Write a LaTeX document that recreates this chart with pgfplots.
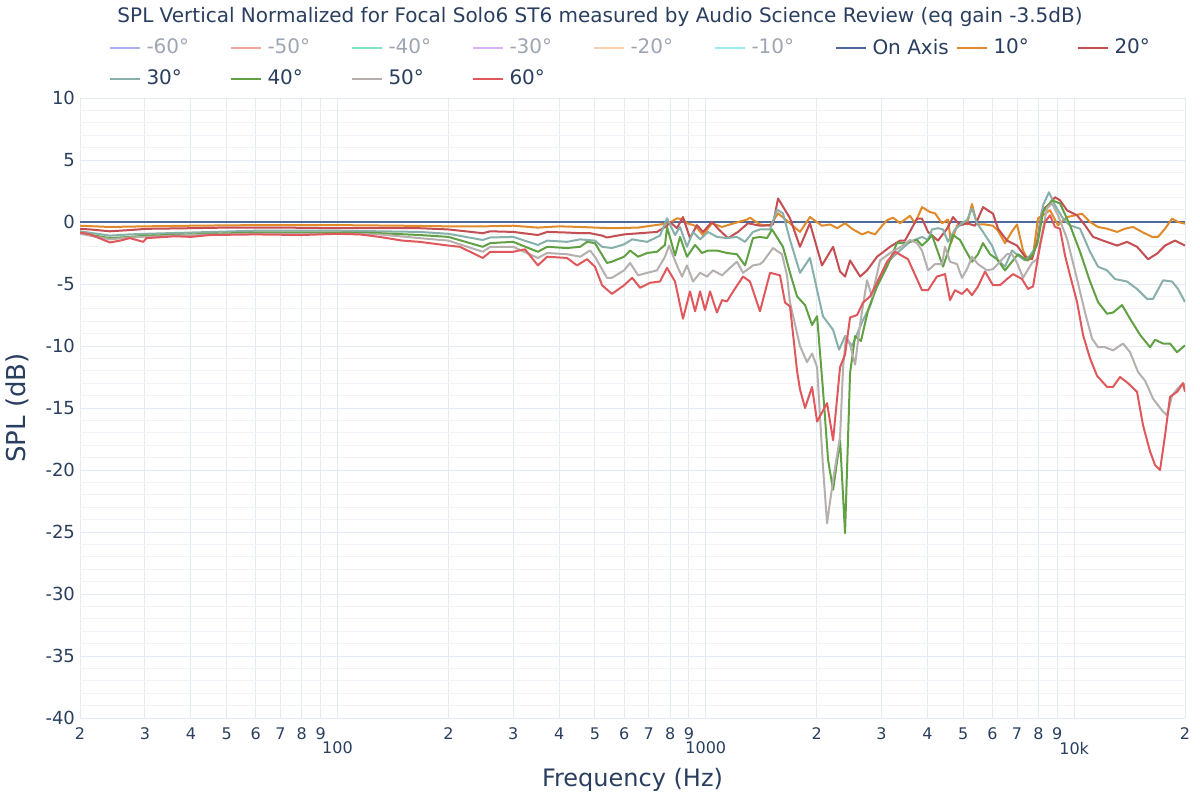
\documentclass[border=0pt]{standalone}
\usepackage{pgfplots}
\pgfplotsset{compat=1.18}
\usepackage{fontspec}
\setmainfont{DejaVu Sans}
\definecolor{txt}{HTML}{2A3F5F}
\definecolor{txtoff}{HTML}{9EA6B3}
\definecolor{gmaj}{HTML}{E4EAF3}
\definecolor{gmin}{HTML}{F0F3F8}
\definecolor{cn60}{HTML}{A9AEF7}
\definecolor{cn50}{HTML}{F3A69B}
\definecolor{cn40}{HTML}{80E3C6}
\definecolor{cn30}{HTML}{D8B2F8}
\definecolor{cn20}{HTML}{FDD0AC}
\definecolor{cn10}{HTML}{9DE9F5}
\definecolor{c0}{HTML}{4C6A9C}
\definecolor{c10}{HTML}{E08A2A}
\definecolor{c20}{HTML}{C44E52}
\definecolor{c30}{HTML}{88B0AA}
\definecolor{c40}{HTML}{62A044}
\definecolor{c50}{HTML}{B5B0AE}
\definecolor{c60}{HTML}{E0585C}
\newcommand{\legbox}[1]{\makebox[39.5pt][l]{#1}}
\begin{document}
\begin{tikzpicture}
\useasboundingbox (0,0) rectangle (600pt,400pt);
\fill[white] (0,0) rectangle (600pt,400pt);
\begin{axis}[
  at={(40pt,41pt)}, anchor=south west,
  scale only axis, width=552.5pt, height=310pt,
  xmode=log, xmin=20, xmax=20000,
  ymin=-40, ymax=10,
  axis line style={draw=none},
  major tick length=0pt, minor tick length=0pt,
  ytick={-40,-35,...,10},
  yticklabels={-40,-35,-30,-25,-20,-15,-10,-5,0,5,10},
  minor ytick={-39,...,9},
  xtick={20,30,40,50,60,70,80,90,200,300,400,500,600,700,800,900,2000,3000,4000,5000,6000,7000,8000,9000,20000},
  xticklabels={2,3,4,5,6,7,8,9,2,3,4,5,6,7,8,9,2,3,4,5,6,7,8,9,2},
  extra x ticks={100,1000,10000},
  extra x tick labels={100,1000,10k},
  extra x tick style={tick label style={yshift=-7pt,font=\fontsize{9.5pt}{11pt}\selectfont}},
  xminorgrids=false,
  grid=both,
  major grid style={gmaj, line width=0.5pt},
  minor grid style={gmin, line width=0.5pt},
  tick label style={color=txt},
  xticklabel style={font=\fontsize{8pt}{10pt}\selectfont, yshift=-1.5pt},
  yticklabel style={font=\fontsize{9pt}{11pt}\selectfont, xshift=1pt},
  xlabel={Frequency (Hz)},
  ylabel={SPL (dB)},
  xlabel style={font=\fontsize{12pt}{14pt}\selectfont, color=txt, at={(axis description cs:0.5,-0.1)}, anchor=center},
  ylabel style={font=\fontsize{13pt}{15pt}\selectfont, color=txt, at={(axis description cs:-0.057,0.5)}, anchor=center, rotate=0},
  legend columns=9,
  legend style={draw=none, fill=none, at={(axis description cs:0.02,1.109)}, anchor=north west,
    font=\fontsize{10pt}{12pt}\selectfont, text=txt, row sep=2.5pt,
    /tikz/every odd column/.append style={column sep=1pt}},
  legend cell align=left,
  legend image code/.code={\draw[#1, line width=1pt] (0pt,0pt) -- (15pt,0pt);},
  every axis plot/.append style={line width=1pt, line join=round},
  clip=true,
]
\addlegendimage{cn60}\addlegendentry{\legbox{\textcolor{txtoff}{-60°}}}
\addlegendimage{cn50}\addlegendentry{\legbox{\textcolor{txtoff}{-50°}}}
\addlegendimage{cn40}\addlegendentry{\legbox{\textcolor{txtoff}{-40°}}}
\addlegendimage{cn30}\addlegendentry{\legbox{\textcolor{txtoff}{-30°}}}
\addlegendimage{cn20}\addlegendentry{\legbox{\textcolor{txtoff}{-20°}}}
\addlegendimage{cn10}\addlegendentry{\legbox{\textcolor{txtoff}{-10°}}}
\addplot[c0] coordinates {(20,0) (20000,0)};
\addlegendentry{\legbox{On Axis}}
\addplot[c10] coordinates {
(20,-0.3) (24,-0.4) (30,-0.35) (40,-0.3) (60,-0.25) (100,-0.25) (150,-0.3) (200,-0.35) (250,-0.35) (300,-0.3) (350,-0.45) (400,-0.35) (456,-0.4) (500,-0.45) (556,-0.5) (655,-0.45) (751,-0.2) (795,-0.1) (835,0.3) (867,0.2) (889,-0.1) (935,-0.3) (983,-1.05) (1039,-0.1) (1107,-0.4) (1163,-0.2) (1294,0.2) (1318,0.35) (1403,-0.2) (1494,-0.3) (1571,0.7) (1693,-0.1) (1802,-0.8) (1918,0.4) (2067,-0.3) (2175,-0.2) (2272,-0.5) (2388,-0.1) (2511,-0.6) (2656,-1.0) (2758,-0.8) (2881,-1.0) (2972,-0.5) (3105,0.15) (3224,0.35) (3368,-0.1) (3584,0.5) (3698,-0.1) (3864,1.2) (4062,0.8) (4190,0.7) (4378,-0.1) (4546,0.2) (4632,-1.7) (4809,-0.3) (4992,0) (5119,-0.2) (5281,1.45) (5449,-0.2) (5728,-0.2) (6023,-0.3) (6214,-0.7) (6492,-1.7) (6782,-0.75) (6998,-0.2) (7266,-2.3) (7496,-3.1) (7734,-2.7) (7980,0.3) (8181,0.5) (8601,0.95) (9042,-0.27) (9565,0.4) (9931,0.5) (10506,0.67) (11045,0) (11610,-0.4) (12283,-0.54) (13076,-0.8) (13747,-0.54) (14454,-0.4) (15290,-0.8) (16277,-1.2) (16897,-1.2) (17654,-0.54) (18443,0.27) (19148,0) (20000,-0.13)};
\addlegendentry{\legbox{10°}}
\addplot[c20] coordinates {
(20,-0.55) (21.3,-0.6) (24.1,-0.75) (27.3,-0.65) (30.3,-0.55) (40,-0.5) (50,-0.45) (70,-0.45) (100,-0.5) (130,-0.5) (167,-0.5) (200,-0.6) (248,-0.9) (260,-0.75) (300,-0.8) (350,-1.05) (371,-0.8) (420,-0.85) (456,-0.9) (485,-0.9) (523,-1.1) (539,-1.25) (600,-1.0) (663,-0.9) (737,-0.8) (785,-0.3) (800,0) (835,-0.5) (867,0.4) (906,-1.3) (946,-0.25) (983,-0.8) (1039,0) (1093,-0.7) (1149,-1.3) (1223,-0.8) (1302,-0.1) (1403,-0.3) (1430,-0.3) (1522,-0.2) (1571,1.9) (1693,0.3) (1802,-2.0) (1918,-0.1) (2067,-3.5) (2216,-2.0) (2315,-4.0) (2388,-4.4) (2464,-3.1) (2624,-4.4) (2740,-3.9) (2917,-2.8) (3164,-2.0) (3368,-1.5) (3474,-1.5) (3745,0.27) (3864,0.27) (4012,-0.8) (4269,-1.5) (4518,-0.54) (4690,0.4) (4900,-0.27) (5119,-0.1) (5381,-0.3) (5657,1.2) (6023,0.67) (6214,-0.54) (6574,-1.5) (6998,-1.9) (7358,-2.8) (7686,-3.0) (7930,-1.6) (8181,0.94) (8601,1.5) (8874,2.0) (9155,1.75) (9565,0.94) (10183,0.54) (10706,-0.27) (11254,-1.2) (11978,-1.5) (13076,-1.9) (13921,-1.6) (14819,-2.0) (15875,-3.0) (16793,-2.55) (17654,-1.9) (18791,-1.5) (20000,-1.9)};
\addlegendentry{\legbox{20°}}
\addplot[c30] coordinates {
(20,-0.75) (24.1,-1.1) (27.3,-1.0) (30.3,-0.95) (40,-0.85) (60,-0.7) (100,-0.7) (130,-0.75) (167,-0.8) (200,-0.95) (248,-1.45) (260,-1.25) (300,-1.2) (350,-1.85) (371,-1.5) (420,-1.6) (456,-1.4) (500,-1.5) (523,-2.0) (556,-2.1) (600,-1.8) (631,-1.4) (693,-1.6) (751,-1.1) (785,0.3) (825,-1.05) (851,-0.4) (889,-2.0) (923,-0.8) (965,-1.4) (1014,-0.8) (1072,-1.2) (1142,-1.3) (1215,-1.2) (1278,-1.6) (1343,-0.8) (1403,-0.6) (1494,-0.6) (1561,1.0) (1620,0.7) (1693,-1.45) (1802,-4.1) (1918,-2.9) (2080,-7.6) (2216,-8.7) (2300,-10.3) (2388,-9.2) (2494,-10.0) (2672,-7.9) (2792,-6.8) (2935,-4.7) (3105,-3.3) (3304,-2.5) (3584,-1.6) (3864,-1.2) (4012,-1.45) (4112,-0.6) (4269,-0.5) (4406,-0.6) (4546,-1.6) (4749,-0.6) (4961,-0.1) (5119,0.15) (5281,1.1) (5449,-0.1) (5657,-0.8) (5985,-1.9) (6214,-3.1) (6492,-3.6) (6782,-2.3) (7042,-2.7) (7358,-3.1) (7590,-2.7) (7930,-1.9) (8232,1.35) (8547,2.4) (8874,1.35) (9329,0.27) (9746,-0.27) (10376,-0.54) (11045,-2.4) (11610,-3.6) (12283,-3.9) (12913,-4.6) (13921,-4.8) (14819,-5.4) (15776,-6.2) (16379,-6.2) (17435,-4.7) (18443,-4.8) (19148,-5.4) (20000,-6.45)};
\addlegendentry{\legbox{30°}}
\addplot[c40] coordinates {
(20,-0.9) (24.1,-1.3) (27.3,-1.2) (30.3,-1.1) (40,-1.0) (60,-0.85) (100,-0.85) (130,-0.9) (167,-1.05) (200,-1.2) (248,-2.0) (260,-1.7) (300,-1.6) (350,-2.4) (371,-2.0) (420,-2.1) (456,-2.0) (476,-1.6) (500,-1.7) (539,-3.3) (556,-3.2) (600,-2.8) (623,-2.3) (655,-2.8) (693,-2.5) (737,-2.4) (775,-1.85) (785,-0.4) (825,-2.7) (851,-1.2) (889,-2.8) (935,-1.85) (977,-2.5) (1014,-2.3) (1072,-2.3) (1142,-2.5) (1215,-2.6) (1278,-3.5) (1343,-1.3) (1403,-1.2) (1466,-1.3) (1513,-0.6) (1620,-2.0) (1693,-4.1) (1769,-6.0) (1860,-6.7) (1943,-8.3) (2005,-7.6) (2080,-13.5) (2148,-19.2) (2216,-21.6) (2315,-17.6) (2388,-25.1) (2464,-12.2) (2543,-9.2) (2638,-9.6) (2758,-7.1) (2917,-5.2) (3105,-3.6) (3304,-1.7) (3474,-1.7) (3584,-1.6) (3745,-1.45) (3864,-1.9) (4012,-1.45) (4112,-1.05) (4242,-2.2) (4406,-3.6) (4546,-2.4) (4690,-1.05) (4900,-1.45) (5055,-2.2) (5281,-3.2) (5483,-2.6) (5657,-1.7) (5910,-2.6) (6175,-3.0) (6492,-3.9) (6782,-3.2) (7042,-2.6) (7450,-3.1) (7734,-2.6) (7980,-1.5) (8232,0.8) (8709,1.75) (9155,1.5) (9746,-0.27) (10376,-2.4) (11045,-4.8) (11610,-6.45) (12283,-7.4) (12751,-7.3) (13491,-6.7) (14185,-7.8) (15100,-9.1) (16075,-10.1) (16585,-9.5) (17435,-9.8) (18214,-9.8) (19028,-10.5) (20000,-9.95)};
\addlegendentry{\legbox{40°}}
\addplot[c50] coordinates {
(20,-0.95) (24.1,-1.4) (27.3,-1.25) (30.3,-1.2) (40,-1.05) (60,-0.95) (100,-0.95) (130,-1.0) (167,-1.3) (200,-1.5) (248,-2.4) (260,-2.0) (300,-2.0) (350,-2.9) (371,-2.5) (420,-2.6) (456,-2.8) (485,-2.3) (500,-2.8) (539,-4.5) (556,-4.5) (600,-3.9) (623,-3.3) (655,-4.3) (693,-4.1) (737,-3.9) (775,-2.8) (795,-1.9) (835,-3.5) (862,-4.4) (889,-3.5) (923,-4.8) (965,-4.1) (1008,-4.4) (1046,-3.9) (1107,-4.3) (1163,-3.7) (1215,-3.2) (1262,-4.1) (1343,-3.5) (1403,-3.4) (1430,-3.2) (1522,-2.1) (1610,-2.6) (1661,-4.3) (1693,-6.5) (1802,-10.0) (1883,-11.3) (1943,-10.6) (2005,-11.7) (2080,-19.7) (2134,-24.3) (2216,-20.8) (2315,-17.3) (2359,-11.7) (2403,-9.2) (2464,-9.9) (2543,-11.5) (2624,-8.2) (2740,-4.7) (2826,-6.0) (2972,-3.1) (3164,-2.5) (3431,-1.9) (3584,-1.45) (3745,-1.7) (3864,-2.3) (4012,-3.9) (4190,-3.4) (4378,-3.4) (4461,-2.0) (4603,-3.2) (4809,-3.4) (4961,-4.5) (5119,-3.8) (5281,-2.8) (5483,-3.4) (5800,-3.9) (6023,-3.8) (6292,-3.2) (6574,-2.6) (6782,-2.6) (6998,-3.3) (7266,-4.5) (7686,-3.3) (7930,-3.0) (8441,1.1) (8709,1.5) (9042,0.54) (9565,-1.35) (10183,-4.6) (10706,-7.3) (11184,-9.4) (11610,-10.1) (12129,-10.1) (12751,-10.35) (13576,-9.8) (14185,-10.5) (14912,-12.1) (15580,-12.8) (16379,-14.25) (17326,-15.2) (17876,-15.6) (18443,-14.0) (19148,-13.4) (19755,-13.0) (20000,-13.2)};
\addlegendentry{\legbox{50°}}
\addplot[c60] coordinates {
(20,-0.85) (21.3,-1.0) (24.1,-1.65) (25.7,-1.5) (27.3,-1.3) (29.7,-1.6) (30.3,-1.3) (36.2,-1.15) (40,-1.2) (45,-1.05) (60,-1.0) (80,-1.05) (100,-0.95) (115,-1.0) (130,-1.2) (150,-1.5) (167,-1.6) (200,-1.9) (215,-2.0) (248,-2.9) (260,-2.4) (300,-2.4) (323,-2.2) (350,-3.5) (371,-2.8) (420,-2.9) (447,-3.5) (476,-3.0) (500,-3.6) (523,-5.1) (556,-5.8) (600,-5.1) (631,-4.5) (663,-5.3) (706,-4.9) (751,-4.8) (785,-3.7) (825,-4.8) (867,-7.8) (906,-5.6) (935,-7.2) (965,-5.6) (995,-7.1) (1027,-5.6) (1072,-7.3) (1107,-6.3) (1142,-6.4) (1186,-5.6) (1262,-4.4) (1318,-4.8) (1403,-7.2) (1494,-4.1) (1590,-4.3) (1641,-6.5) (1693,-6.8) (1769,-12.0) (1802,-13.5) (1860,-15.0) (1943,-13.3) (2005,-16.1) (2134,-14.6) (2216,-17.6) (2315,-11.7) (2388,-10.7) (2464,-7.7) (2575,-7.5) (2672,-6.5) (2792,-6.0) (2972,-4.4) (3105,-3.2) (3265,-2.4) (3540,-3.0) (3864,-5.5) (4012,-5.5) (4242,-4.4) (4461,-4.2) (4603,-6.3) (4749,-5.5) (4961,-5.8) (5119,-5.4) (5281,-5.9) (5483,-5.2) (5728,-4.0) (6023,-5.1) (6292,-5.1) (6574,-4.6) (6825,-4.2) (7220,-4.6) (7496,-5.4) (7734,-5.2) (8080,-1.9) (8336,0) (8601,0.54) (8874,-0.4) (9155,-0.54) (9446,-2.7) (9746,-4.3) (10183,-6.45) (10572,-9.1) (11045,-11.0) (11538,-12.4) (12283,-13.3) (12751,-13.3) (13323,-12.5) (14008,-13.0) (14819,-13.7) (15386,-16.4) (16075,-18.5) (16585,-19.6) (17111,-20.0) (17654,-17.2) (18214,-14.1) (19028,-13.7) (19755,-13.0) (20000,-13.7)};
\addlegendentry{\legbox{60°}}
\end{axis}
\node[font=\fontsize{10pt}{12pt}\selectfont, text=txt] at (300pt,391.5pt) {SPL Vertical Normalized for Focal Solo6 ST6 measured by Audio Science Review (eq gain -3.5dB)};
\end{tikzpicture}
\end{document}
